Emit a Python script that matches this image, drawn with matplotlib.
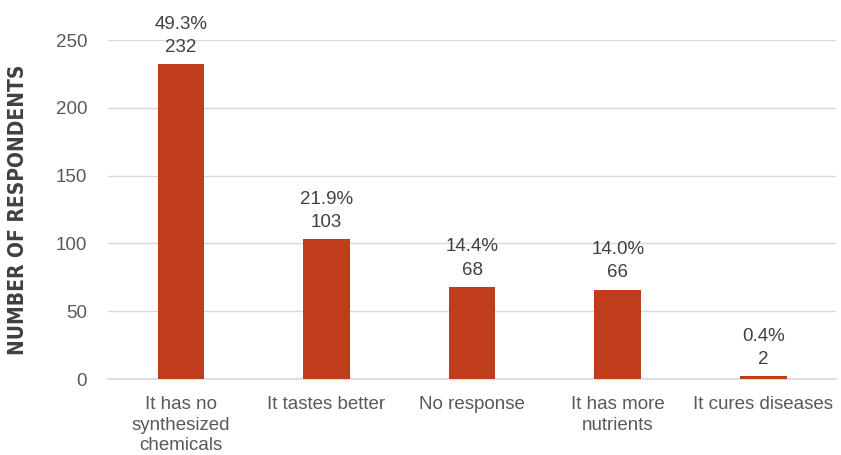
import matplotlib
matplotlib.use("Agg")
import matplotlib.pyplot as plt
from matplotlib import font_manager
from matplotlib.font_manager import FontProperties

categories = ["It has no\nsynthesized\nchemicals", "It tastes better", "No response",
              "It has more\nnutrients", "It cures diseases"]
counts = [232, 103, 68, 66, 2]
percents = ["49.3%", "21.9%", "14.4%", "14.0%", "0.4%"]
yticks = [0, 50, 100, 150, 200, 250]

plt.rcParams['font.family'] = ['Liberation Sans', 'DejaVu Sans']

# find a bold condensed font for the y-axis label, if one is installed
def _w(f):
    w = f.weight
    if isinstance(w, str):
        w = {'bold': 700, 'heavy': 800, 'black': 900, 'semibold': 600, 'demibold': 600}.get(w, 400)
    return w

cands = []
for f in font_manager.fontManager.ttflist:
    nm = (f.name + " " + str(f.fname)).lower()
    cond = ('condensed' in str(f.stretch)) or ('condensed' in nm) or ('narrow' in nm)
    if cond and _w(f) >= 600 and 'italic' not in nm and 'oblique' not in nm and f.style == 'normal':
        cands.append(f)
if cands:
    label_fp = FontProperties(fname=cands[0].fname, size=15)
else:
    label_fp = FontProperties(family='DejaVu Sans', weight='bold', size=10.5)

fig = plt.figure(figsize=(8.41, 4.55), dpi=100)
ax = fig.add_axes([0.1284, 0.167, 0.866, 0.745])

x = range(len(categories))
ax.bar(x, counts, width=0.32, color="#BE3D1A", zorder=3)
for i, (c, p) in enumerate(zip(counts, percents)):
    ax.text(i, c + 6, f"{p}\n{c}", ha="center", va="bottom", fontsize=13.5,
            color="#404040", linespacing=1.5)

ax.set_xlim(-0.5, 4.5)
ax.set_ylim(0, 250)
ax.set_yticks(yticks)
ax.set_xticks(list(x))
ax.set_xticklabels(categories, fontsize=13.5, color="#595959", linespacing=1.3)
ax.tick_params(axis="y", labelsize=13.5, labelcolor="#595959", length=0, pad=15)
ax.tick_params(axis="x", length=0, pad=12)
ax.grid(axis="y", color="#D9D9D9", linewidth=1, zorder=0)
for s in ["top", "right", "left"]:
    ax.spines[s].set_visible(False)
ax.spines["bottom"].set_color("#D9D9D9")
ax.spines["bottom"].set_linewidth(1.2)

ax.set_ylabel("NUMBER OF RESPONDENTS", color="#404040", fontproperties=label_fp)
ax.yaxis.set_label_coords(-0.11, 0.5)

fig.savefig("out.png", dpi=100)
